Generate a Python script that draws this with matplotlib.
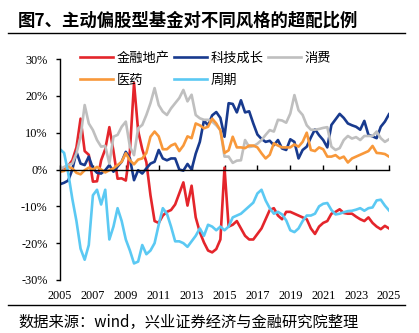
import numpy as np
import matplotlib
matplotlib.use('Agg')
import matplotlib.pyplot as plt
from matplotlib.lines import Line2D

plt.rcParams['font.family'] = ['Noto Sans CJK SC', 'DejaVu Sans']

# quarterly overweight ratios (%), 2005Q1 .. 2025Q1
finance = [0, 0.5, 1, 2.5, 6, 13.8, 5, 4, -3.3, -3.2, 2.5, 5.5, 11.5, 5, -2.5, -2.4,
           -3, 5, 23.5, 10.5, 5.5, 2, -7, -14, -14.5, -12.5, -11.5, -11, -9.5, -6.5,
           -3.5, -9.8, -4.4, -13, -17, -19.8, -22, -22.5, -21.6, -19, 0.5, -15.5, -15,
           -14, -16, -18, -19, -19, -17.5, -16, -13.5, -11, -10.5, -12.5, -13.5, -11.5,
           -11.5, -12, -12.5, -13, -13.5, -16, -17.5, -15.5, -14.5, -14, -12, -11.5,
           -10.8, -11.8, -12, -12, -12.8, -13.5, -14, -13, -14.5, -15.5, -16.2, -15.3, -16]
tech = [-4, -3.6, -3, 0, 4.8, 1.6, 1.2, 3.5, 0.3, -0.9, -1.1, -0.2, 1.2, -0.6, 0.8, 2.1,
        4.8, 3, -2.9, -0.2, -1.1, 0.3, 1.6, 2.1, 5.3, 3, 2.5, 3, 3, 0, -0.3, 1.5, 0, 4.3,
        7.5, 13.3, 12, 14.7, 15.6, 14, 8.9, 18, 17.8, 15.5, 18.8, 15.5, 15.8, 12.5, 9.5,
        8.3, 7.5, 7.8, 6.6, 8, 5.7, 5.3, 8.2, 7.5, 3, 5.3, 6.2, 8.7, 10.9, 9.3, 8, 6,
        12.1, 13.6, 15.1, 14, 12.5, 12, 11.6, 10.8, 13.2, 9.4, 9, 8.5, 11.6, 13, 15]
consumer = [0, 0.7, 1.2, 1.6, 4.4, 8.9, 17.5, 12.5, 10.7, 8, 6.2, 6.4, 1.6, 8.9, 9.4,
            11.6, 13, 6.2, 3.9, 11.2, 12.1, 14.8, 18, 22.1, 17.5, 15.7, 14.8, 16.6, 18,
            19.4, 21.6, 18.5, 20.3, 14.8, 13.9, 13.5, 13.5, 13, 12, 10.7, 3.5, 3.5, 1.8,
            2.4, 2.5, 8, 6.1, 6.3, 7, 8, 9.4, 10.7, 10.3, 13.5, 13.3, 12.7, 15.2, 20.2,
            16.1, 14.8, 12, 10.8, 10.8, 11, 11.3, 11.5, 6.2, 5.3, 5.8, 8, 9.1, 8.4, 8.8,
            8, 9.1, 9.1, 9.1, 10.3, 8.5, 7.5, 8.2]
pharma = [-0.6, -0.4, 0.7, 0.3, -0.9, -1.3, -0.2, 0.5, 0, 0.7, 0, -0.8, -0.2, 0.3, 1.2,
          2.1, 4.4, 2.5, 1.4, 2.7, 3, 4.5, 8.9, 10.3, 9, 5.5, 5.5, 6.5, 7, 5, 6.5, 9, 8.5,
          12.5, 12, 11.2, 11.6, 13.8, 12.5, 10.6, 4.5, 5.2, 8.9, 6, 6, 5.8, 6.5, 6.5, 6,
          4.4, 3, 4, 7.1, 6.5, 6, 6, 6, 6.8, 6.2, 7.5, 10, 5.3, 5, 6, 5.5, 3.5, 3.5, 3.9,
          3, 3.5, 1.9, 3, 3.5, 4, 4.5, 5, 6.4, 4.5, 4.4, 4.2, 3.5]
cyclical = [5.5, 4.5, -1, -8, -14, -21.5, -24.5, -20.5, -7, -5.5, -9.5, -5.5, -19, -15.5,
            -10.5, -14, -19, -22, -25.5, -25, -20.5, -23, -22, -20, -15, -10.5, -12, -15.5,
            -19.5, -19.5, -20, -21, -19.5, -18, -16, -18, -15, -15.5, -16.5, -15.5, -16.5,
            -15.5, -13, -12.5, -12, -11, -10, -9, -6.5, -5.5, -8.4, -10.5, -12, -11.5,
            -12.2, -13.8, -16.5, -17, -16, -14, -12.5, -12.5, -12, -10, -9.3, -9.1, -11,
            -12.2, -12, -11.6, -11.3, -11.2, -10.9, -10.5, -11.2, -10.5, -10.3, -8.4, -8.2,
            -9.8, -11.1]

series = [('金融地产', finance, '#E4252B'),
          ('科技成长', tech, '#183A8E'),
          ('消费', consumer, '#BFBFBF'),
          ('医药', pharma, '#F8983A'),
          ('周期', cyclical, '#5BC9F3')]

years = 2005 + np.arange(len(finance)) / 4

W, H = 419, 333
fig = plt.figure(figsize=(W / 100, H / 100), dpi=100)
ax = fig.add_axes([60 / W, 1 - 280 / H, (389 - 60) / W, (280 - 59) / H])

lines = {}
for name, vals, color in series:
    lines[name], = ax.plot(years, vals, color=color, lw=1.9, label=name)

ax.set_xlim(2005, 2025)
ax.set_ylim(-30, 30)
ax.set_yticks(range(-30, 31, 10))
ax.set_yticklabels([f'{v}%' for v in range(-30, 31, 10)])
ax.set_xticks(range(2005, 2026, 2))

for s in ['top', 'right']:
    ax.spines[s].set_visible(False)
ax.spines['bottom'].set_position(('data', 0))
ax.spines['left'].set_linewidth(1)
ax.spines['bottom'].set_linewidth(1)
ax.tick_params(axis='x', direction='in', length=3.5, width=1, labelbottom=False)
ax.tick_params(axis='y', direction='out', length=3, width=1, pad=6,
               labelsize=8.8, labelfontfamily='Liberation Serif')

sec = ax.secondary_xaxis('bottom')
sec.spines['bottom'].set_visible(False)
sec.set_xticks(range(2005, 2026, 2))
sec.tick_params(length=0, pad=7, labelsize=8.8, labelfontfamily='Liberation Serif')

order = ['金融地产', '医药', '科技成长', '周期', '消费']
ax.legend([lines[n] for n in order], order, ncol=3, loc='upper left',
          bbox_to_anchor=(80 / W, 1 - 52 / H), bbox_transform=fig.transFigure,
          frameon=False, fontsize=9.5, handlelength=2.5, handletextpad=0.25,
          columnspacing=0.35, labelspacing=0.68, borderpad=0, borderaxespad=0)

fig.text(18 / W, 1 - 21 / H, '图7、主动偏股型基金对不同风格的超配比例',
         fontsize=12.5, fontweight='bold', va='center', ha='left')
fig.add_artist(Line2D([8 / W, 405 / W], [1 - 33 / H] * 2, color='black', lw=1))
fig.add_artist(Line2D([8 / W, 405 / W], [1 - 305 / H] * 2, color='black', lw=1))
fig.text(18 / W, 1 - 322 / H, '数据来源：wind，兴业证券经济与金融研究院整理',
         fontsize=11, va='center', ha='left')

fig.savefig('out.png', dpi=100)
